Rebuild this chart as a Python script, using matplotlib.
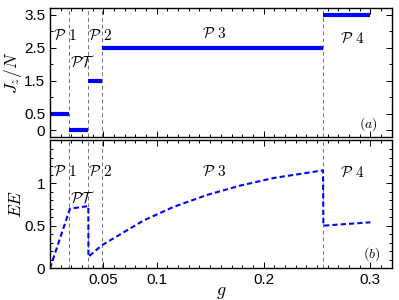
import numpy as np
import matplotlib
matplotlib.use('Agg')
import matplotlib.pyplot as plt
from matplotlib.ticker import MultipleLocator, FixedLocator

plt.rcParams['font.family'] = ['Liberation Sans', 'DejaVu Sans']
plt.rcParams['mathtext.fontset'] = 'cm'

# Phase boundaries (g)
bounds = [0.0178, 0.0359, 0.049, 0.256]

# Panel (a): Jz/N plateaus
jz_start = [0.0, 0.0178, 0.0359, 0.049, 0.256]
jz_end = [0.0178, 0.0359, 0.049, 0.256, 0.300]
jz_val = [0.5, 0.0, 1.5, 2.5, 3.5]

# Panel (b): entanglement entropy
ee_g = [0.0, 0.0187, 0.0359, 0.0360, 0.0485, 0.0875, 0.1156, 0.1469,
        0.178, 0.2094, 0.2407, 0.2557, 0.2560, 0.300]
ee_val = [0.0, 0.70, 0.73, 0.135, 0.27, 0.56, 0.72, 0.86,
          0.97, 1.06, 1.12, 1.15, 0.50, 0.54]

fig = plt.figure(figsize=(3.99, 3.0), dpi=100)
ax1 = fig.add_axes([0.1253, 0.5433, 0.8564, 0.43])
ax2 = fig.add_axes([0.1253, 0.1057, 0.8564, 0.426])

for ax in (ax1, ax2):
    for b in bounds:
        ax.axvline(b, color='0.45', lw=0.7, ls=(0, (4, 3)))
    ax.set_xlim(0, 0.32)
    ax.xaxis.set_major_locator(FixedLocator([0.05, 0.1, 0.2, 0.3]))
    ax.xaxis.set_minor_locator(MultipleLocator(0.01))
    ax.tick_params(which='both', direction='in', top=True, right=True,
                   labelsize=11, width=0.7)
    ax.tick_params(which='major', length=4)
    ax.tick_params(which='minor', length=2)
    for s in ax.spines.values():
        s.set_linewidth(1.0)

# (a)
ax1.hlines(jz_val, jz_start, jz_end, colors='#0000ff', lw=3)
ax1.set_ylim(-0.2, 3.7)
ax1.set_yticks([0, 0.5, 1.5, 2.5, 3.5])
ax1.set_yticklabels(['0', '0.5', '1.5', '2.5', '3.5'])
ax1.yaxis.set_minor_locator(FixedLocator([1, 2, 3]))
ax1.tick_params(labelbottom=False)
ax1.set_ylabel(r'$J_z/N$', fontsize=12.5)
ax1.yaxis.set_label_coords(-0.077, 0.5)

ax1.text(0.003, 2.74, r'$\mathcal{P}\ 1$', fontsize=11)
ax1.text(0.019, 1.94, r'$\mathcal{PT}$', fontsize=11)
ax1.text(0.036, 2.74, r'$\mathcal{P}\ 2$', fontsize=11)
ax1.text(0.142, 2.80, r'$\mathcal{P}\ 3$', fontsize=11)
ax1.text(0.272, 2.64, r'$\mathcal{P}\ 4$', fontsize=11)
ax1.text(0.289, 0.08, r'$(a)$', fontsize=10)

# (b)
ax2.plot(ee_g, ee_val, color='#0000ff', lw=1.5, ls=(0, (2.5, 1.5)))
ax2.set_ylim(0, 1.5)
ax2.set_yticks([0, 0.5, 1])
ax2.set_yticklabels(['0', '0.5', '1'])
ax2.yaxis.set_minor_locator(MultipleLocator(0.1))
ax2.set_xticklabels(['0.05', '0.1', '0.2', '0.3'])
ax2.set_ylabel(r'$EE$', fontsize=12.5)
ax2.yaxis.set_label_coords(-0.077, 0.5)
ax2.set_xlabel(r'$g$', fontsize=13, labelpad=-2)

ax2.text(0.003, 1.09, r'$\mathcal{P}\ 1$', fontsize=11)
ax2.text(0.019, 0.77, r'$\mathcal{PT}$', fontsize=11)
ax2.text(0.036, 1.09, r'$\mathcal{P}\ 2$', fontsize=11)
ax2.text(0.142, 1.08, r'$\mathcal{P}\ 3$', fontsize=11)
ax2.text(0.272, 1.07, r'$\mathcal{P}\ 4$', fontsize=11)
ax2.text(0.293, 0.12, r'$(b)$', fontsize=10)

fig.savefig('out.png', dpi=100)
